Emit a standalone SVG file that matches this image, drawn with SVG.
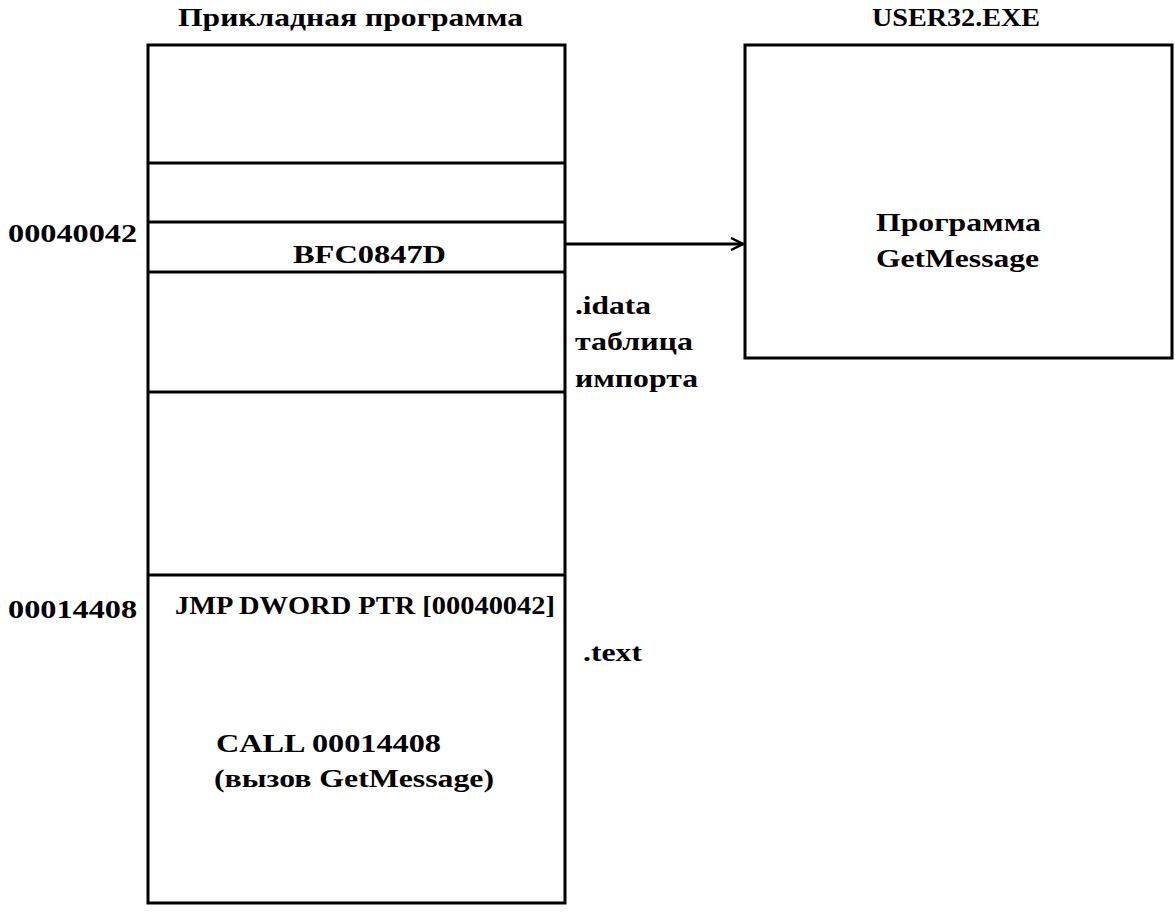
<svg xmlns="http://www.w3.org/2000/svg" width="1175" height="912" viewBox="0 0 1175 912">
<style>
text{font-family:"Liberation Serif","Times New Roman",serif;font-weight:bold;font-size:26px;fill:#000}
.b{fill:none;stroke:#000;stroke-width:3}
</style>
<defs><marker id="a" markerWidth="14" markerHeight="14" refX="13" refY="7" orient="auto" markerUnits="userSpaceOnUse"><path d="M1,1 L13,7 L1,13" fill="none" stroke="#000" stroke-width="2.5"/></marker></defs>
<rect width="1175" height="912" fill="#fff"/>
<g id="app">
<rect class="b" x="148" y="45" width="417" height="858"/>
<line class="b" x1="148" y1="163" x2="565" y2="163"/>
<line class="b" x1="148" y1="222" x2="565" y2="222"/>
<line class="b" x1="148" y1="272" x2="565" y2="272"/>
<line class="b" x1="148" y1="392" x2="565" y2="392"/>
<line class="b" x1="148" y1="575" x2="565" y2="575"/>
<text x="178" y="26" textLength="345" lengthAdjust="spacingAndGlyphs">Прикладная программа</text>
<text x="293" y="263" textLength="153" lengthAdjust="spacingAndGlyphs">BFC0847D</text>
<text x="175" y="614" font-size="24" textLength="380" lengthAdjust="spacingAndGlyphs">JMP DWORD PTR [00040042]</text>
<text x="216" y="752" textLength="225" lengthAdjust="spacingAndGlyphs">CALL 00014408</text>
<text x="214" y="787" textLength="280" lengthAdjust="spacingAndGlyphs">(вызов GetMessage)</text>
<text x="8" y="242" textLength="129" lengthAdjust="spacingAndGlyphs">00040042</text>
<text x="8" y="618" textLength="129" lengthAdjust="spacingAndGlyphs">00014408</text>
<text x="575" y="314" textLength="76" lengthAdjust="spacingAndGlyphs">.idata</text>
<text x="575" y="350" textLength="118" lengthAdjust="spacingAndGlyphs">таблица</text>
<text x="575" y="387" textLength="123" lengthAdjust="spacingAndGlyphs">импорта</text>
<text x="583" y="661" textLength="59" lengthAdjust="spacingAndGlyphs">.text</text>
</g>
<g id="user32">
<rect class="b" x="745" y="45" width="427" height="313"/>
<text x="872" y="26" textLength="168" lengthAdjust="spacingAndGlyphs">USER32.EXE</text>
<text x="876" y="231" textLength="165" lengthAdjust="spacingAndGlyphs">Программа</text>
<text x="876" y="267" textLength="163" lengthAdjust="spacingAndGlyphs">GetMessage</text>
</g>
<g id="connectors">
<line x1="565" y1="244" x2="743" y2="244" stroke="#000" stroke-width="3" marker-end="url(#a)"/>
</g>
</svg>
